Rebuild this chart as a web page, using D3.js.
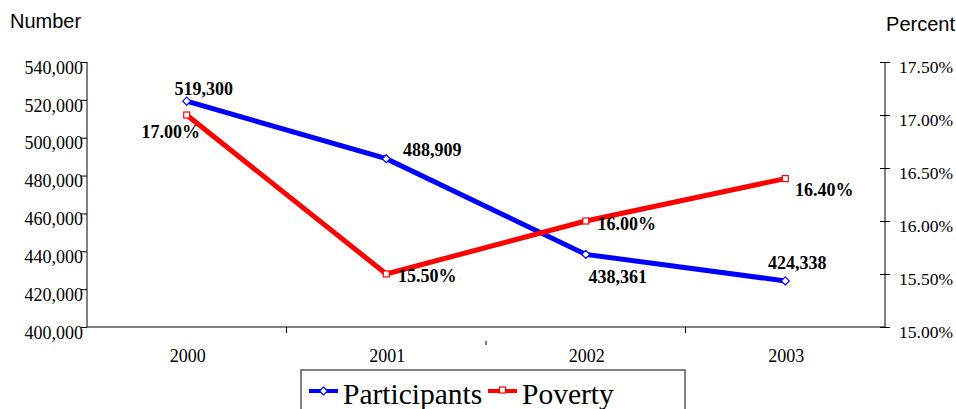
<!DOCTYPE html>
<html><head><meta charset="utf-8">
<script src="https://cdn.jsdelivr.net/npm/d3@7"></script>
<style>body{margin:0;background:#fff;}svg{display:block;}</style>
</head><body>
<svg id="c" width="956" height="409"></svg>
<script>
const years = ["2000","2001","2002","2003"];
const participants = [519300, 488909, 438361, 424338];
const poverty = [17.00, 15.50, 16.00, 16.40];
const leftTicks = [400000,420000,440000,460000,480000,500000,520000,540000];
const rightTicks = [15.0,15.5,16.0,16.5,17.0,17.5];

const svg = d3.select("#c");
const L = 87, R = 885, T = 62, B = 327;
const x = d3.scaleBand().domain(years).range([L, R]);
const yL = d3.scaleLinear().domain([400000, 540000]).range([B, T]);
const yR = d3.scaleLinear().domain([15, 17.5]).range([B, T]);
const cx = d => x(d) + x.bandwidth()/2;
const serif = "'Liberation Serif','Times New Roman',serif";
const sans = "'Liberation Sans',Arial,sans-serif";

// titles
svg.append("text").attr("x",10).attr("y",28).style("font-family",sans).style("font-size","20px").text("Number");
svg.append("text").attr("x",955).attr("y",31).attr("text-anchor","end").style("font-family",sans).style("font-size","20px").text("Percent");

// left axis
const gl = svg.append("g").attr("transform",`translate(${L},0)`)
  .call(d3.axisLeft(yL).tickValues(leftTicks).tickSize(6).tickPadding(0).tickFormat(d3.format(",")));
gl.select(".domain").attr("d",`M0,${T}V${B}`).attr("stroke","#000");
gl.selectAll(".tick line").attr("stroke","#000");
gl.selectAll(".tick text").style("font-family",serif).style("font-size","18px").attr("fill","#000").attr("dy","0.62em").attr("dx","2");

// right axis
const gr = svg.append("g").attr("transform",`translate(${R},0)`)
  .call(d3.axisRight(yR).tickValues(rightTicks).tickSize(5).tickPadding(9).tickFormat(d => d3.format(".2f")(d) + "%"));
gr.select(".domain").attr("d",`M0,${T}V${B}`).attr("stroke","#000");
gr.selectAll(".tick line").attr("stroke","#000").attr("x1",-5);
gr.selectAll(".tick text").style("font-family",serif).style("font-size","17.5px").attr("fill","#000").attr("dy","0.6em");

// bottom axis
svg.append("line").attr("x1",L).attr("x2",R).attr("y1",B).attr("y2",B).attr("stroke","#000");
const bounds = years.slice(1).map(d => x(d));
svg.selectAll(".xt").data(bounds).enter().append("line")
  .attr("x1",d=>d).attr("x2",d=>d)
  .attr("y1",(d,i)=> i===1 ? B+14 : B).attr("y2",(d,i)=> i===1 ? B+18 : B+6)
  .attr("stroke","#000");
svg.selectAll(".xl").data(years).enter().append("text")
  .attr("x",d=>cx(d)+1).attr("y",362).attr("text-anchor","middle")
  .style("font-family",serif).style("font-size","18px").text(d=>d);

// lines
const lineP = d3.line().x((d,i)=>cx(years[i])).y(d=>yL(d));
const lineV = d3.line().x((d,i)=>cx(years[i])).y(d=>yR(d));
svg.append("path").attr("d",lineP(participants)).attr("fill","none").attr("stroke","#0000ff").attr("stroke-width",5).attr("stroke-linejoin","miter");
svg.append("path").attr("d",lineV(poverty)).attr("fill","none").attr("stroke","#ff0000").attr("stroke-width",5).attr("stroke-linejoin","miter");

const diamond = (g, px, py) => g.append("path")
  .attr("d",`M${px},${py-4}L${px+4},${py}L${px},${py+4}L${px-4},${py}Z`)
  .attr("fill","#fff").attr("stroke","#0000ff").attr("stroke-width",1.2);
const square = (g, px, py) => g.append("rect")
  .attr("x",px-3).attr("y",py-3).attr("width",6).attr("height",6)
  .attr("fill","#fff").attr("stroke","#ff0000").attr("stroke-width",1.2);

participants.forEach((v,i)=> diamond(svg, cx(years[i]), yL(v)));
poverty.forEach((v,i)=> square(svg, cx(years[i]), yR(v)));

// data labels
const offP = [[17,-6],[46,-3],[32,29],[12,-12]];
const offV = [[-16,23],[41,8],[41,9],[39,17]];
const fmtN = d3.format(",");
participants.forEach((v,i)=> svg.append("text")
  .attr("x",cx(years[i])+offP[i][0]).attr("y",yL(v)+offP[i][1]).attr("text-anchor","middle")
  .style("font-family",serif).style("font-weight","bold").style("font-size","18px").text(fmtN(v)));
poverty.forEach((v,i)=> svg.append("text")
  .attr("x",cx(years[i])+offV[i][0]).attr("y",yR(v)+offV[i][1]).attr("text-anchor","middle")
  .style("font-family",serif).style("font-weight","bold").style("font-size","18px").text(d3.format(".2f")(v)+"%"));

// legend
const lg = svg.append("g");
lg.append("rect").attr("x",301).attr("y",370).attr("width",384).attr("height",60)
  .attr("fill","#fff").attr("stroke","#555").attr("stroke-width",1.5);
lg.append("line").attr("x1",309).attr("x2",338).attr("y1",391).attr("y2",391).attr("stroke","#0000ff").attr("stroke-width",4);
diamond(lg, 323.5, 391);
lg.append("text").attr("x",343).attr("y",404).style("font-family",serif).style("font-size","29.5px").text("Participants");
lg.append("line").attr("x1",488).attr("x2",517).attr("y1",391).attr("y2",391).attr("stroke","#ff0000").attr("stroke-width",4);
square(lg, 502.5, 390);
lg.append("text").attr("x",522).attr("y",404).style("font-family",serif).style("font-size","29.5px").text("Poverty");
</script>
</body></html>
